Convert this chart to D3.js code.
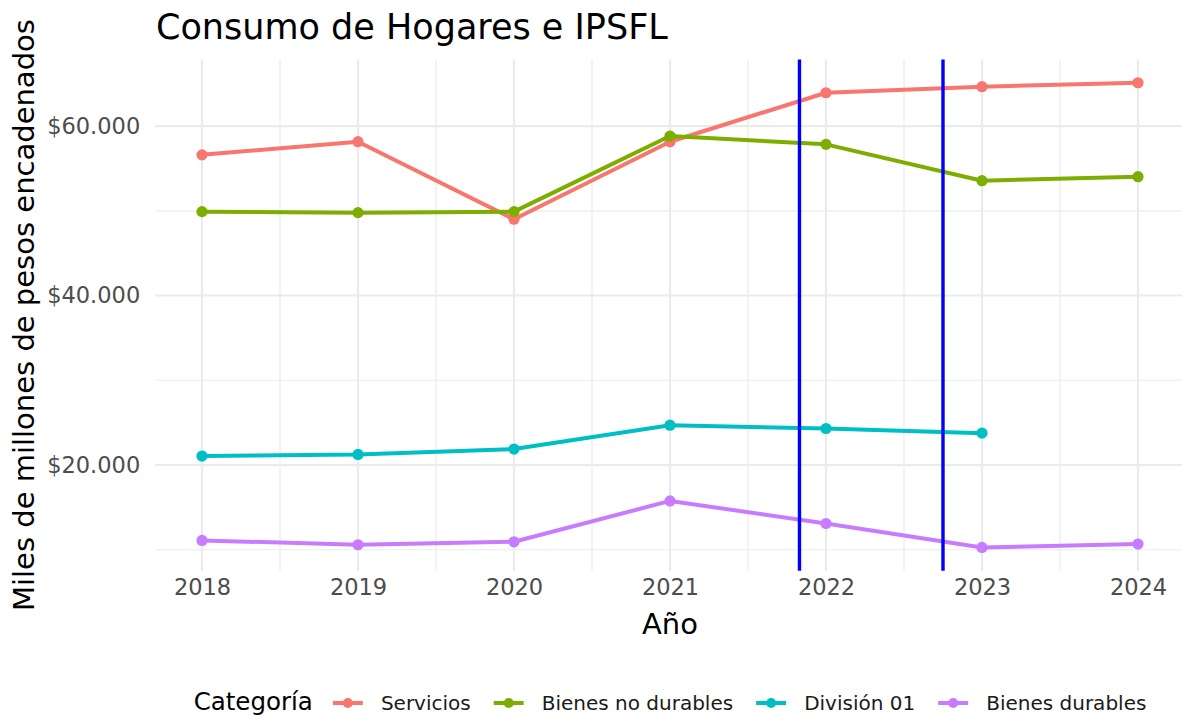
<!DOCTYPE html>
<html>
<head>
<meta charset="utf-8">
<script src="https://cdn.jsdelivr.net/npm/d3@7"></script>
<style>
  html, body { margin: 0; padding: 0; background: #fff; }
  svg { display: block; font-family: "DejaVu Sans", sans-serif; }
</style>
</head>
<body>
<svg id="chart" width="1182" height="717"></svg>
<script>
// ---- data ----
const years = [2018, 2019, 2020, 2021, 2022, 2023, 2024];
const categories = ["Servicios", "Bienes no durables", "División 01", "Bienes durables"];
const servicios = [56600, 58150, 49000, 58150, 63930, 64640, 65110];
const bienesNoDurables = [49900, 49780, 49900, 58820, 57840, 53550, 54020];
const division01 = [21060, 21250, 21880, 24700, 24310, 23760, null];
const bienesDurables = [11100, 10590, 10940, 15760, 13100, 10270, 10670];
const vlineYears = [2021.83, 2022.75];
const yMajorTicks = [20000, 40000, 60000];
const yMinorTicks = [10000, 30000, 50000];
const colors = ["#F8766D", "#7CAE00", "#00BFC4", "#C77CFF"];

const seriesValues = [servicios, bienesNoDurables, division01, bienesDurables];
const series = categories.map((c, i) => ({
  name: c, color: colors[i],
  points: years.map((y, j) => ({ x: y, v: seriesValues[i][j] })).filter(d => d.v != null)
}));

// ---- layout ----
const svg = d3.select("#chart");
const panel = { left: 155.2, right: 1184.8, top: 59.5, bottom: 570.7 };

const xExp = (d3.max(years) - d3.min(years)) * 0.05;
const x = d3.scaleLinear()
  .domain([d3.min(years) - xExp, d3.max(years) + xExp])
  .range([panel.left, panel.right]);

const allV = seriesValues.flat().filter(v => v != null);
const vMin = d3.min(allV), vMax = d3.max(allV);
const yExp = (vMax - vMin) * 0.05;
const y = d3.scaleLinear()
  .domain([vMin - yExp, vMax + yExp])
  .range([panel.bottom, panel.top]);

const grid = svg.append("g");
const xMinor = years.slice(0, -1).map(v => v + 0.5);
grid.selectAll(".xmin").data(xMinor).join("line")
  .attr("x1", d => x(d)).attr("x2", d => x(d))
  .attr("y1", panel.top).attr("y2", panel.bottom)
  .attr("stroke", "#EBEBEB").attr("stroke-width", 1.2);
grid.selectAll(".ymin").data(yMinorTicks).join("line")
  .attr("x1", panel.left).attr("x2", panel.right)
  .attr("y1", d => y(d)).attr("y2", d => y(d))
  .attr("stroke", "#EBEBEB").attr("stroke-width", 1.2);
grid.selectAll(".xmaj").data(years).join("line")
  .attr("x1", d => x(d)).attr("x2", d => x(d))
  .attr("y1", panel.top).attr("y2", panel.bottom)
  .attr("stroke", "#EBEBEB").attr("stroke-width", 2.2);
grid.selectAll(".ymaj").data(yMajorTicks).join("line")
  .attr("x1", panel.left).attr("x2", panel.right)
  .attr("y1", d => y(d)).attr("y2", d => y(d))
  .attr("stroke", "#EBEBEB").attr("stroke-width", 2.2);

const fmt = v => "$" + d3.format(",")(v).replace(/,/g, ".");
const yAxis = svg.append("g").attr("transform", `translate(${panel.left},0)`)
  .call(d3.axisLeft(y).tickValues(yMajorTicks).tickFormat(fmt).tickSize(0).tickPadding(15));
yAxis.select(".domain").remove();
yAxis.selectAll("text").attr("font-size", 22.5).attr("fill", "#4D4D4D")
  .attr("font-family", "DejaVu Sans");

const xAxis = svg.append("g").attr("transform", `translate(0,${panel.bottom})`)
  .call(d3.axisBottom(x).tickValues(years).tickFormat(d3.format("d")).tickSize(0).tickPadding(8));
xAxis.select(".domain").remove();
xAxis.selectAll("text").attr("font-size", 22.5).attr("fill", "#4D4D4D")
  .attr("font-family", "DejaVu Sans");

const line = d3.line().x(d => x(d.x)).y(d => y(d.v));
const sg = svg.append("g");
series.forEach(s => {
  sg.append("path").datum(s.points).attr("d", line)
    .attr("fill", "none").attr("stroke", s.color).attr("stroke-width", 4)
    .attr("stroke-linejoin", "round");
  sg.selectAll(null).data(s.points).join("circle")
    .attr("cx", d => x(d.x)).attr("cy", d => y(d.v)).attr("r", 5.6)
    .attr("fill", s.color);
});

svg.append("g").selectAll("line").data(vlineYears).join("line")
  .attr("x1", d => x(d)).attr("x2", d => x(d))
  .attr("y1", panel.top).attr("y2", panel.bottom)
  .attr("stroke", "#0000FF").attr("stroke-width", 3.4);

svg.append("text").attr("x", 156).attr("y", 39)
  .attr("font-size", 35).attr("fill", "#000").text("Consumo de Hogares e IPSFL");
svg.append("text").attr("x", (panel.left + panel.right) / 2).attr("y", 634)
  .attr("text-anchor", "middle").attr("font-size", 29).attr("fill", "#000").text("Año");
svg.append("text")
  .attr("transform", `translate(34,${(panel.top + panel.bottom) / 2}) rotate(-90)`)
  .attr("text-anchor", "middle").attr("font-size", 29).attr("fill", "#000")
  .text("Miles de millones de pesos encadenados");

const lg = svg.append("g");
const legY = 703;
const lt = lg.append("text").attr("y", legY + 7).attr("font-size", 24.5).attr("fill", "#000").text("Categoría");
const items = series.map(s => {
  const g = lg.append("g");
  g.append("line").attr("x1", 0).attr("x2", 30).attr("y1", legY).attr("y2", legY)
    .attr("stroke", s.color).attr("stroke-width", 4);
  g.append("circle").attr("cx", 15).attr("cy", legY).attr("r", 5).attr("fill", s.color);
  const t = g.append("text").attr("x", 48).attr("y", legY + 6.5).attr("font-size", 20)
    .attr("fill", "#1a1a1a").text(s.name);
  return { g, w: 48 + t.node().getComputedTextLength() };
});
const titleW = lt.node().getComputedTextLength();
let total = titleW + 20 + d3.sum(items, d => d.w) + 23 * (items.length - 1);
let cx = (panel.left + panel.right) / 2 - total / 2;
lt.attr("x", cx);
cx += titleW + 20;
items.forEach(it => { it.g.attr("transform", `translate(${cx},0)`); cx += it.w + 23; });
</script>
</body>
</html>
